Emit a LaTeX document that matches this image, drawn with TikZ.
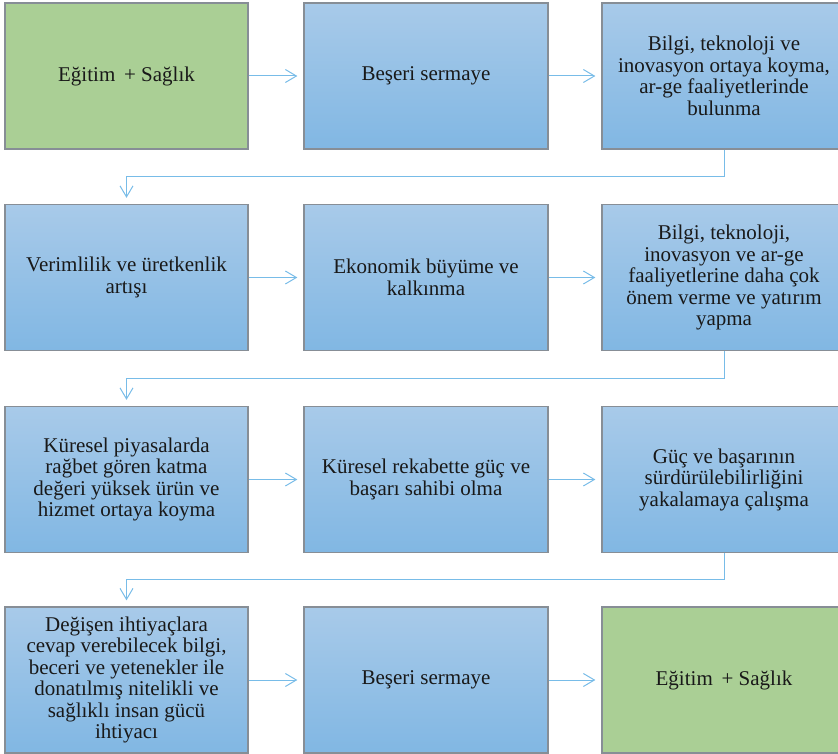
\documentclass[tikz,border=0pt]{standalone}
\usepackage{fontspec}
\setmainfont{LiberationSerif}[Extension=.ttf, UprightFont=*-Regular, BoldFont=*-Bold]
\usetikzlibrary{arrows.meta}
\definecolor{bluetop}{RGB}{168,202,233}
\definecolor{bluebot}{RGB}{129,183,227}
\definecolor{greenfill}{RGB}{170,207,149}
\definecolor{boxline}{RGB}{135,142,150}
\definecolor{linkblue}{RGB}{120,188,232}
\definecolor{txt}{RGB}{25,25,25}
\tikzset{
  base/.style={rectangle, draw=boxline, line width=1.3pt, minimum height=146pt, inner sep=4pt,
    align=center, text=txt, font=\rmfamily\fontsize{21}{21.5}\selectfont},
  bluebox/.style={base, top color=bluetop, bottom color=bluebot},
  greenbox/.style={base, fill=greenfill},
  wA/.style={minimum width=243pt},
  wB/.style={minimum width=244pt},
  wC/.style={minimum width=244pt},
  link/.style={draw=linkblue, line width=1pt, -{Straight Barb[length=11pt,width=13pt,line width=1pt]}, shorten >=6pt},
}
\begin{document}
\begin{tikzpicture}[x=1pt,y=-1pt]
\useasboundingbox (0,0) rectangle (838,754);
% row 1
\node[greenbox,wA] (a1) at (126.5,76) {Eğitim \,+ Sağlık};
\node[bluebox,wB] (b1) at (426,76) {Beşeri sermaye};
\node[bluebox,wC] (c1) at (724,76) {Bilgi, teknoloji ve\\inovasyon ortaya koyma,\\ar-ge faaliyetlerinde\\bulunma};
% row 2
\node[bluebox,wA] (a2) at (126.5,277.5) {Verimlilik ve üretkenlik\\artışı};
\node[bluebox,wB] (b2) at (426,277.5) {Ekonomik büyüme ve\\kalkınma};
\node[bluebox,wC] (c2) at (724,277.5) {Bilgi, teknoloji,\\inovasyon ve ar-ge\\faaliyetlerine daha çok\\önem verme ve yatırım\\yapma};
% row 3
\node[bluebox,wA] (a3) at (126.5,479.5) {Küresel piyasalarda\\rağbet gören katma\\değeri yüksek ürün ve\\hizmet ortaya koyma};
\node[bluebox,wB] (b3) at (426,479.5) {Küresel rekabette güç ve\\başarı sahibi olma};
\node[bluebox,wC] (c3) at (724,479.5) {Güç ve başarının\\sürdürülebilirliğini\\yakalamaya çalışma};
% row 4
\node[bluebox,wA] (a4) at (126.5,680) {Değişen ihtiyaçlara\\cevap verebilecek bilgi,\\beceri ve yetenekler ile\\donatılmış nitelikli ve\\sağlıklı insan gücü\\ihtiyacı};
\node[bluebox,wB] (b4) at (426,680) {Beşeri sermaye};
\node[greenbox,wC] (c4) at (724,680) {Eğitim \,+ Sağlık};
% horizontal links
\foreach \u/\v in {a1/b1,b1/c1,a2/b2,b2/c2,a3/b3,b3/c3,a4/b4,b4/c4}
  \draw[link] (\u.east) -- (\v.west);
% bent links
\coordinate (k1) at (724,177);
\coordinate (k2) at (724,378.5);
\coordinate (k3) at (724,579.5);
\draw[link] (c1.south) -- (k1) -| (a2.north);
\draw[link] (c2.south) -- (k2) -| (a3.north);
\draw[link] (c3.south) -- (k3) -| (a4.north);
\end{tikzpicture}
\end{document}
